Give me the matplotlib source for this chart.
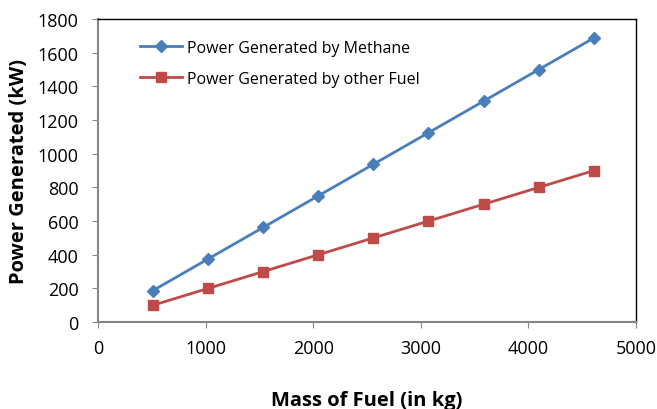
import matplotlib
matplotlib.use('Agg')
import matplotlib.pyplot as plt

# data
mass = [512, 1024, 1536, 2048, 2560, 3072, 3584, 4096, 4608]
methane = [187.5, 375, 562.5, 750, 937.5, 1125, 1312.5, 1500, 1687.5]
other_fuel = [100, 200, 300, 400, 500, 600, 700, 800, 900]

blue = '#4a7ebb'
red = '#be4b48'
grey = '#868686'

plt.rcParams['font.family'] = ['Open Sans', 'DejaVu Sans']

fig = plt.figure(figsize=(6.57, 4.10), dpi=100, facecolor='white')
ax = fig.add_axes([0.149, 0.212, 0.819, 0.739])

ax.plot(mass, methane, color=blue, lw=2, marker='D', ms=6,
        label='Power Generated by Methane')
ax.plot(mass, other_fuel, color=red, lw=2, marker='s', ms=7.5,
        label='Power Generated by other Fuel')

ax.set_xlim(0, 5000)
ax.set_ylim(0, 1800)
ax.set_xticks(range(0, 5001, 1000))
ax.set_yticks(range(0, 1801, 200))

for side in ('left', 'bottom'):
    ax.spines[side].set_color(grey)
    ax.spines[side].set_linewidth(1.5)
for side in ('top', 'right'):
    ax.spines[side].set_color('black')
    ax.spines[side].set_linewidth(1)

ax.tick_params(axis='both', direction='out', length=4, color=grey,
               labelsize=13, labelcolor='black')
ax.tick_params(axis='x', pad=8)
ax.tick_params(axis='y', pad=10)

ax.set_xlabel('Mass of Fuel (in kg)', fontsize=14.5, fontweight='bold', labelpad=24)
ax.set_ylabel('Power Generated (kW)', fontsize=14.5, fontweight='bold', labelpad=6)

leg = ax.legend(loc='upper left', bbox_to_anchor=(0.052, 0.98), frameon=False,
                fontsize=11.5, handlelength=2.6, labelspacing=0.95, handletextpad=0.3)

fig.savefig('out.png', dpi=100, facecolor='white')
